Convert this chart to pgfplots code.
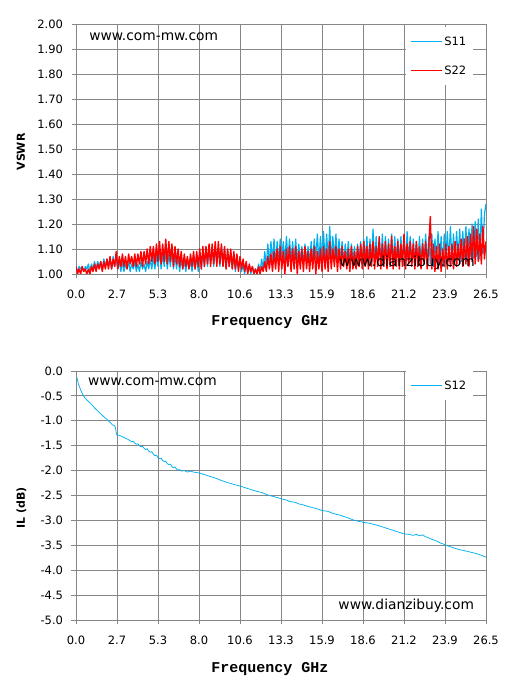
\documentclass[border=0pt]{standalone}
\usepackage{fontspec}
\setmainfont{DejaVu Sans}
\newfontfamily\labmono{Liberation Mono}
\usepackage{pgfplots}
\pgfplotsset{compat=1.18}
\definecolor{sblue}{RGB}{0,176,240}
\definecolor{sred}{RGB}{255,0,0}
\definecolor{gridgray}{RGB}{134,134,134}
\pgfplotsset{
  legend image code/.code={\draw[#1, line width=0.75bp] (0bp,0bp) -- (31bp,0bp);},
  myaxis/.style={
    scale only axis, width=410bp,
    xmin=0, xmax=26.5,
    xtick={0,2.65,5.3,7.95,10.6,13.25,15.9,18.55,21.2,23.85,26.5},
    xticklabels={0.0,2.7,5.3,8.0,10.6,13.3,15.9,18.6,21.2,23.9,26.5},
    grid=major, grid style={gridgray, line width=0.9bp},
    axis line style={gridgray, line width=0.9bp},
    major tick style={gridgray, line width=0.9bp},
    tick align=outside, major tick length=4.5bp,
    tick pos=left,
    ticklabel style={font=\fontsize{11.5bp}{13bp}\selectfont, text=black},
    xticklabel style={yshift=-7.5bp},
    yticklabel style={xshift=-5bp},
    /pgf/number format/assume math mode=true,
    every axis x label/.style={at={(axis description cs:0.473,0)}, anchor=base, yshift=-52bp,
      font=\labmono\bfseries\fontsize{15bp}{17bp}\selectfont},
    legend style={draw=none, fill=white, font=\fontsize{11.5bp}{13bp}\selectfont,
      inner xsep=5bp, inner ysep=8bp, row sep=16bp, nodes={inner sep=1.5bp}, anchor=north east},
    legend cell align=left,
  }
}
\begin{document}
\begin{tikzpicture}
\useasboundingbox (0,0) rectangle (513bp,694bp);
% ---------------- top: VSWR ----------------
\begin{axis}[myaxis,
  at={(76bp,420bp)}, anchor=south west, height=250bp,
  ymin=1, ymax=2,
  ytick={1.0,1.1,1.2,1.3,1.4,1.5,1.6,1.7,1.8,1.9,2.0},
  yticklabel style={/pgf/number format/.cd, fixed, fixed zerofill, precision=2},
  xlabel={Frequency GHz},
  ylabel={VSWR},
  every axis y label/.style={at={(axis description cs:0,0.488)}, xshift=-51bp, rotate=90, anchor=base,
    font=\bfseries\fontsize{11bp}{13bp}\selectfont},
  legend style={at={(0.968,0.988)}},
]
\addplot[sblue, line width=1.2bp, line join=round] table[row sep=\\]{x y\\
0.0 1.03\\0.1 1.01\\0.2 1.03\\0.3 1.02\\0.4 1.03\\0.5 1.01\\0.6 1.03\\0.7 1.02\\0.8 1.04\\0.9 1.01\\
1.0 1.04\\1.1 1.02\\1.2 1.05\\1.3 1.02\\1.4 1.05\\1.5 1.03\\1.6 1.05\\1.7 1.02\\1.8 1.06\\1.9 1.03\\
2.0 1.06\\2.1 1.03\\2.2 1.06\\2.3 1.02\\2.4 1.07\\2.5 1.03\\2.6 1.06\\2.7 1.02\\2.8 1.05\\2.9 1.01\\
3.0 1.05\\3.1 1.01\\3.2 1.04\\3.3 1.02\\3.4 1.05\\3.5 1.01\\3.6 1.04\\3.7 1.02\\3.8 1.05\\3.9 1.01\\
4.0 1.04\\4.1 1.01\\4.2 1.05\\4.3 1.02\\4.4 1.04\\4.5 1.01\\4.6 1.05\\4.7 1.02\\4.8 1.06\\4.9 1.02\\
5.0 1.07\\5.1 1.02\\5.2 1.08\\5.3 1.03\\5.4 1.09\\5.5 1.02\\5.6 1.08\\5.7 1.03\\5.8 1.09\\5.9 1.02\\
6.0 1.08\\6.1 1.03\\6.2 1.09\\6.3 1.02\\6.4 1.08\\6.5 1.02\\6.6 1.07\\6.7 1.01\\6.8 1.06\\6.9 1.02\\
7.0 1.05\\7.1 1.01\\7.2 1.06\\7.3 1.02\\7.4 1.05\\7.5 1.01\\7.6 1.06\\7.7 1.02\\7.8 1.07\\7.9 1.01\\
8.0 1.08\\8.1 1.02\\8.2 1.09\\8.3 1.03\\8.4 1.10\\8.5 1.03\\8.6 1.11\\8.7 1.04\\8.8 1.10\\8.9 1.03\\
9.0 1.11\\9.1 1.04\\9.2 1.10\\9.3 1.03\\9.4 1.11\\9.5 1.03\\9.6 1.10\\9.7 1.02\\9.8 1.09\\9.9 1.03\\
10.0 1.08\\10.1 1.02\\10.2 1.07\\10.3 1.01\\10.4 1.06\\10.5 1.02\\10.6 1.05\\10.7 1.01\\10.8 1.04\\10.9 1.00\\
11.0 1.04\\11.1 1.01\\11.2 1.03\\11.3 1.00\\11.4 1.03\\11.5 1.01\\11.6 1.02\\11.7 1.00\\11.8 1.04\\11.9 1.01\\
12.0 1.06\\12.1 1.02\\12.2 1.09\\12.3 1.03\\12.4 1.12\\12.5 1.04\\12.6 1.13\\12.7 1.05\\12.8 1.14\\12.9 1.04\\
13.0 1.13\\13.1 1.05\\13.2 1.14\\13.3 1.06\\13.4 1.13\\13.5 1.05\\13.6 1.15\\13.7 1.06\\13.8 1.14\\13.9 1.05\\
14.0 1.13\\14.1 1.05\\14.2 1.14\\14.3 1.04\\14.4 1.12\\14.5 1.05\\14.6 1.11\\14.7 1.04\\14.8 1.12\\14.9 1.05\\
15.0 1.11\\15.1 1.04\\15.2 1.13\\15.3 1.05\\15.4 1.14\\15.5 1.06\\15.6 1.16\\15.7 1.05\\15.8 1.15\\15.9 1.06\\
16.0 1.17\\16.1 1.05\\16.2 1.16\\16.3 1.06\\16.4 1.19\\16.5 1.05\\16.6 1.15\\16.7 1.06\\16.8 1.16\\16.9 1.05\\
17.0 1.14\\17.1 1.05\\17.2 1.13\\17.3 1.04\\17.4 1.12\\17.5 1.05\\17.6 1.13\\17.7 1.04\\17.8 1.12\\17.9 1.05\\
18.0 1.11\\18.1 1.04\\18.2 1.12\\18.3 1.05\\18.4 1.13\\18.5 1.04\\18.6 1.14\\18.7 1.05\\18.8 1.15\\18.9 1.04\\
19.0 1.14\\19.1 1.05\\19.2 1.18\\19.3 1.04\\19.4 1.15\\19.5 1.05\\19.6 1.14\\19.7 1.04\\19.8 1.16\\19.9 1.05\\
20.0 1.15\\20.1 1.04\\20.2 1.14\\20.3 1.05\\20.4 1.16\\20.5 1.04\\20.6 1.15\\20.7 1.05\\20.8 1.14\\20.9 1.04\\
21.0 1.15\\21.1 1.05\\21.2 1.14\\21.3 1.04\\21.4 1.17\\21.5 1.05\\21.6 1.15\\21.7 1.04\\21.8 1.14\\21.9 1.05\\
22.0 1.13\\22.1 1.04\\22.2 1.15\\22.3 1.03\\22.4 1.14\\22.5 1.05\\22.6 1.16\\22.7 1.03\\22.8 1.15\\22.9 1.04\\
23.0 1.16\\23.1 1.03\\23.2 1.14\\23.3 1.05\\23.4 1.17\\23.5 1.04\\23.6 1.15\\23.7 1.03\\23.8 1.16\\23.9 1.05\\
24.0 1.17\\24.1 1.05\\24.2 1.19\\24.3 1.04\\24.4 1.16\\24.5 1.05\\24.6 1.17\\24.7 1.06\\24.8 1.18\\24.9 1.05\\
25.0 1.17\\25.1 1.06\\25.2 1.19\\25.3 1.05\\25.4 1.18\\25.5 1.07\\25.6 1.20\\25.7 1.06\\25.8 1.21\\25.9 1.07\\
26.0 1.22\\26.1 1.06\\26.2 1.26\\26.3 1.08\\26.4 1.24\\26.5 1.28\\
};
\addlegendentry{S11}
\addplot[sred, line width=1.4bp, line join=round] table[row sep=\\]{x y\\
0.0 1.03\\0.1 1.00\\0.2 1.02\\0.3 1.00\\0.4 1.03\\0.5 1.01\\0.6 1.02\\0.7 1.00\\0.8 1.02\\0.9 1.00\\
1.0 1.03\\1.1 1.01\\1.2 1.04\\1.3 1.01\\1.4 1.04\\1.5 1.02\\1.6 1.05\\1.7 1.01\\1.8 1.05\\1.9 1.02\\
2.0 1.06\\2.1 1.02\\2.2 1.07\\2.3 1.02\\2.4 1.06\\2.5 1.03\\2.6 1.09\\2.7 1.02\\2.8 1.07\\2.9 1.03\\
3.0 1.08\\3.1 1.03\\3.2 1.07\\3.3 1.02\\3.4 1.08\\3.5 1.04\\3.6 1.07\\3.7 1.03\\3.8 1.08\\3.9 1.03\\
4.0 1.08\\4.1 1.04\\4.2 1.09\\4.3 1.03\\4.4 1.09\\4.5 1.04\\4.6 1.10\\4.7 1.04\\4.8 1.11\\4.9 1.05\\
5.0 1.11\\5.1 1.04\\5.2 1.12\\5.3 1.05\\5.4 1.13\\5.5 1.04\\5.6 1.12\\5.7 1.05\\5.8 1.14\\5.9 1.04\\
6.0 1.13\\6.1 1.05\\6.2 1.12\\6.3 1.03\\6.4 1.11\\6.5 1.04\\6.6 1.10\\6.7 1.03\\6.8 1.09\\6.9 1.02\\
7.0 1.08\\7.1 1.03\\7.2 1.07\\7.3 1.02\\7.4 1.08\\7.5 1.03\\7.6 1.09\\7.7 1.02\\7.8 1.09\\7.9 1.03\\
8.0 1.10\\8.1 1.02\\8.2 1.11\\8.3 1.03\\8.4 1.11\\8.5 1.04\\8.6 1.12\\8.7 1.03\\8.8 1.12\\8.9 1.04\\
9.0 1.13\\9.1 1.03\\9.2 1.13\\9.3 1.04\\9.4 1.12\\9.5 1.03\\9.6 1.11\\9.7 1.02\\9.8 1.10\\9.9 1.03\\
10.0 1.10\\10.1 1.02\\10.2 1.09\\10.3 1.02\\10.4 1.08\\10.5 1.01\\10.6 1.07\\10.7 1.02\\10.8 1.06\\10.9 1.01\\
11.0 1.05\\11.1 1.00\\11.2 1.04\\11.3 1.01\\11.4 1.03\\11.5 1.00\\11.6 1.02\\11.7 1.00\\11.8 1.03\\11.9 1.00\\
12.0 1.03\\12.1 1.01\\12.2 1.05\\12.3 1.01\\12.4 1.07\\12.5 1.02\\12.6 1.08\\12.7 1.01\\12.8 1.09\\12.9 1.02\\
13.0 1.10\\13.1 1.01\\13.2 1.11\\13.3 1.02\\13.4 1.09\\13.5 1.00\\13.6 1.10\\13.7 1.03\\13.8 1.11\\13.9 1.01\\
14.0 1.10\\14.1 1.02\\14.2 1.11\\14.3 1.00\\14.4 1.09\\14.5 1.02\\14.6 1.10\\14.7 1.01\\14.8 1.11\\14.9 1.02\\
15.0 1.09\\15.1 1.01\\15.2 1.10\\15.3 1.02\\15.4 1.11\\15.5 1.00\\15.6 1.09\\15.7 1.02\\15.8 1.10\\15.9 1.01\\
16.0 1.11\\16.1 1.02\\16.2 1.10\\16.3 1.01\\16.4 1.13\\16.5 1.02\\16.6 1.10\\16.7 1.03\\16.8 1.11\\16.9 1.01\\
17.0 1.10\\17.1 1.02\\17.2 1.11\\17.3 1.03\\17.4 1.09\\17.5 1.02\\17.6 1.10\\17.7 1.01\\17.8 1.11\\17.9 1.02\\
18.0 1.09\\18.1 1.02\\18.2 1.11\\18.3 1.03\\18.4 1.12\\18.5 1.02\\18.6 1.13\\18.7 1.03\\18.8 1.11\\18.9 1.02\\
19.0 1.12\\19.1 1.03\\19.2 1.13\\19.3 1.02\\19.4 1.11\\19.5 1.03\\19.6 1.15\\19.7 1.02\\19.8 1.12\\19.9 1.03\\
20.0 1.13\\20.1 1.02\\20.2 1.12\\20.3 1.03\\20.4 1.15\\20.5 1.02\\20.6 1.11\\20.7 1.03\\20.8 1.13\\20.9 1.02\\
21.0 1.12\\21.1 1.03\\21.2 1.16\\21.3 1.02\\21.4 1.12\\21.5 1.04\\21.6 1.13\\21.7 1.03\\21.8 1.12\\21.9 1.02\\
22.0 1.13\\22.1 1.03\\22.2 1.11\\22.3 1.02\\22.4 1.12\\22.5 1.04\\22.6 1.13\\22.7 1.02\\22.8 1.11\\22.9 1.23\\
23.0 1.02\\23.1 1.12\\23.2 1.01\\23.3 1.11\\23.4 1.02\\23.5 1.12\\23.6 1.01\\23.7 1.10\\23.8 1.03\\23.9 1.12\\
24.0 1.02\\24.1 1.11\\24.2 1.03\\24.3 1.12\\24.4 1.02\\24.5 1.13\\24.6 1.03\\24.7 1.12\\24.8 1.04\\24.9 1.14\\
25.0 1.03\\25.1 1.14\\25.2 1.04\\25.3 1.15\\25.4 1.03\\25.5 1.16\\25.6 1.05\\25.7 1.19\\25.8 1.04\\25.9 1.18\\
26.0 1.05\\26.1 1.16\\26.2 1.04\\26.3 1.19\\26.4 1.06\\26.5 1.13\\
};
\addlegendentry{S22}
\node[anchor=west, inner sep=0pt, font=\fontsize{13.8bp}{16bp}\selectfont] at (rel axis cs:0.032,0.948) {www.com-mw.com};
\node[anchor=east, inner sep=0pt, font=\fontsize{13.8bp}{16bp}\selectfont] at (rel axis cs:0.973,0.044) {www.dianzibuy.com};
\end{axis}
% ---------------- bottom: IL ----------------
\begin{axis}[myaxis,
  at={(76bp,74bp)}, anchor=south west, height=249bp,
  ymin=-5, ymax=0,
  ytick={-5,-4.5,-4,-3.5,-3,-2.5,-2,-1.5,-1,-0.5,0},
  yticklabel style={/pgf/number format/.cd, fixed, fixed zerofill, precision=1},
  xlabel={Frequency GHz},
  ylabel={IL (dB)},
  every axis y label/.style={at={(axis description cs:0,0.45)}, xshift=-51bp, rotate=90, anchor=base,
    font=\bfseries\fontsize{11bp}{13bp}\selectfont},
  legend style={at={(0.968,1.0)}},
]
\addplot[sblue, line width=0.75bp] table[row sep=\\]{x y\\
0.05 -0.12\\0.15 -0.25\\0.3 -0.38\\0.45 -0.48\\0.6 -0.55\\0.8 -0.61\\1.0 -0.67\\1.2 -0.74\\1.4 -0.80\\1.6 -0.86\\
1.8 -0.92\\2.0 -0.97\\2.2 -1.03\\2.35 -1.08\\2.5 -1.10\\2.55 -1.14\\2.6 -1.24\\2.65 -1.29\\2.8 -1.29\\3.0 -1.32\\
3.2 -1.35\\3.4 -1.38\\3.5 -1.40\\3.6 -1.42\\3.7 -1.41\\3.8 -1.45\\3.9 -1.47\\4.0 -1.46\\4.1 -1.50\\4.2 -1.52\\
4.3 -1.51\\4.4 -1.55\\4.5 -1.58\\4.6 -1.56\\4.7 -1.61\\4.8 -1.63\\4.9 -1.62\\5.0 -1.67\\5.1 -1.70\\5.2 -1.69\\
5.3 -1.74\\5.4 -1.76\\5.5 -1.75\\5.6 -1.80\\5.7 -1.82\\5.8 -1.81\\5.9 -1.86\\6.0 -1.88\\6.1 -1.87\\6.2 -1.92\\
6.3 -1.94\\6.4 -1.93\\6.5 -1.97\\6.6 -1.99\\6.7 -1.98\\6.8 -2.01\\7.0 -2.00\\7.2 -2.03\\7.4 -2.01\\7.6 -2.03\\
7.8 -2.04\\8.0 -2.05\\8.5 -2.10\\9.0 -2.15\\9.5 -2.21\\10.0 -2.26\\10.6 -2.31\\11.0 -2.35\\11.5 -2.40\\12.0 -2.44\\
12.5 -2.50\\13.0 -2.54\\13.3 -2.57\\13.6 -2.59\\13.8 -2.62\\14.0 -2.63\\14.2 -2.64\\14.4 -2.67\\14.6 -2.68\\14.8 -2.70\\
15.0 -2.72\\15.5 -2.76\\15.9 -2.80\\16.3 -2.82\\16.6 -2.86\\17.0 -2.89\\17.5 -2.94\\18.0 -3.00\\18.6 -3.04\\19.0 -3.06\\
19.5 -3.10\\20.0 -3.15\\20.5 -3.20\\21.0 -3.25\\21.2 -3.27\\21.5 -3.28\\21.8 -3.30\\22.0 -3.28\\22.2 -3.31\\22.4 -3.29\\
22.6 -3.33\\22.8 -3.35\\23.0 -3.38\\23.2 -3.40\\23.4 -3.43\\23.6 -3.46\\23.8 -3.48\\23.9 -3.50\\24.2 -3.53\\24.5 -3.56\\
24.8 -3.59\\25.0 -3.60\\25.4 -3.63\\25.8 -3.66\\26.2 -3.70\\26.5 -3.74\\
};
\addlegendentry{S12}
\node[anchor=west, inner sep=0pt, font=\fontsize{13.8bp}{16bp}\selectfont] at (rel axis cs:0.029,0.956) {www.com-mw.com};
\node[anchor=east, inner sep=0pt, font=\fontsize{13.8bp}{16bp}\selectfont] at (rel axis cs:0.971,0.056) {www.dianzibuy.com};
\end{axis}
\end{tikzpicture}
\end{document}
